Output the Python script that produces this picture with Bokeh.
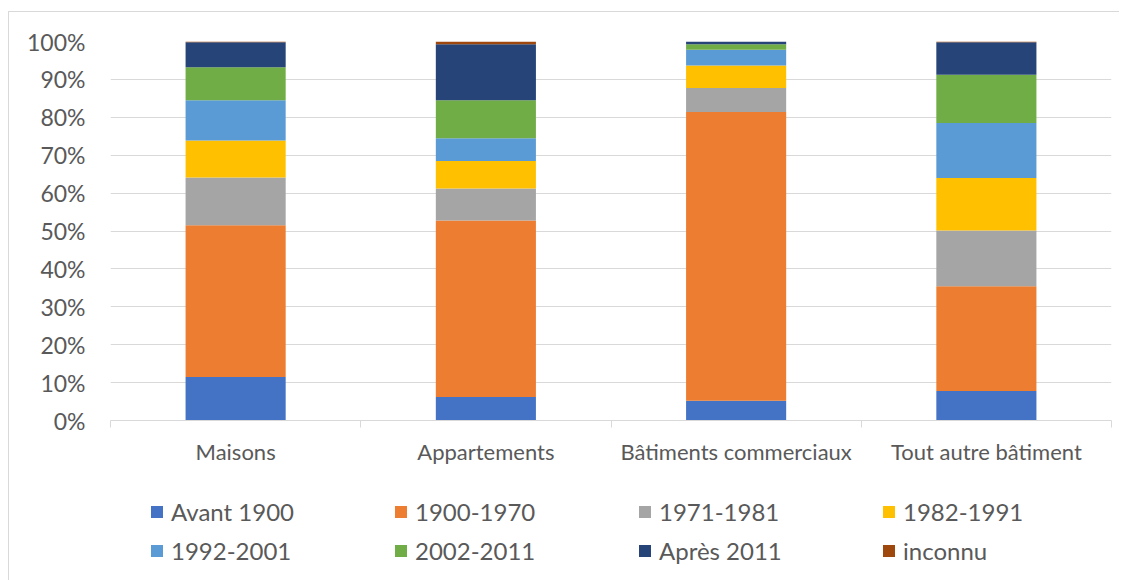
from bokeh.plotting import figure
from bokeh.layouts import column
from bokeh.models import (FixedTicker, NumeralTickFormatter, Legend, LegendItem,
                          ColumnDataSource, Range1d)
from bokeh.embed import file_html
from bokeh.resources import INLINE

categories = ["Maisons", "Appartements", "Bâtiments commerciaux", "Tout autre bâtiment"]
periods = ["Avant 1900", "1900-1970", "1971-1981", "1982-1991",
           "1992-2001", "2002-2011", "Après 2011", "inconnu"]

# shares in percent, per category
avant_1900 = [11.5, 6.2, 5.2, 7.8]
p1900_1970 = [40.0, 46.6, 76.2, 27.6]
p1971_1981 = [12.6, 8.4, 6.3, 14.7]
p1982_1991 = [9.8, 7.3, 6.0, 13.9]
p1992_2001 = [10.6, 6.0, 4.1, 14.5]
p2002_2011 = [8.7, 10.0, 1.5, 12.7]
apres_2011 = [6.6, 14.8, 0.7, 8.6]
inconnu = [0.2, 0.7, 0.0, 0.2]

y_ticks = [0, 10, 20, 30, 40, 50, 60, 70, 80, 90, 100]

colors = ["#4472C4", "#ED7D31", "#A5A5A5", "#FFC000",
          "#5B9BD5", "#70AD47", "#264478", "#9E480E"]

series = [avant_1900, p1900_1970, p1971_1981, p1982_1991,
          p1992_2001, p2002_2011, apres_2011, inconnu]
keys = ["s%d" % i for i in range(len(periods))]

n = len(categories)
data = {"x": [i + 0.5 for i in range(n)]}
for k, s in zip(keys, series):
    data[k] = [v / 100.0 for v in s]
source = ColumnDataSource(data)

TEXT = "#595959"
GRID = "#d9d9d9"
FONT = "Lato"

p = figure(width=1110, height=468, output_backend="svg", toolbar_location=None,
           x_range=Range1d(0, n), y_range=Range1d(0, 1),
           min_border_left=101, min_border_right=8, min_border_top=29,
           min_border_bottom=60)
p.outline_line_color = None

renderers = p.vbar_stack(keys, x="x", width=0.4, source=source,
                         color=colors, line_color=None)

# axes
p.yaxis.ticker = FixedTicker(ticks=[t / 100.0 for t in y_ticks])
p.yaxis.formatter = NumeralTickFormatter(format="0%")
p.yaxis.axis_line_color = None
p.yaxis.major_tick_line_color = None
p.yaxis.minor_tick_line_color = None
p.yaxis.major_tick_in = 0
p.yaxis.major_tick_out = 0
p.yaxis.major_label_standoff = 25
p.yaxis.major_label_text_font = FONT
p.yaxis.major_label_text_font_size = "23px"
p.yaxis.major_label_text_color = TEXT

p.xaxis.ticker = FixedTicker(ticks=[i + 0.5 for i in range(n)],
                             minor_ticks=[i for i in range(n + 1)])
p.xaxis.major_label_overrides = {i + 0.5: c for i, c in enumerate(categories)}
p.xaxis.axis_line_color = GRID
p.xaxis.axis_line_width = 1
p.xaxis.major_tick_line_color = None
p.xaxis.major_tick_in = 0
p.xaxis.major_tick_out = 0
p.xaxis.minor_tick_line_color = GRID
p.xaxis.minor_tick_in = 0
p.xaxis.minor_tick_out = 7
p.xaxis.major_label_standoff = 10
p.xaxis.major_label_text_font = FONT
p.xaxis.major_label_text_font_size = "22px"
p.xaxis.major_label_text_color = TEXT

p.xgrid.grid_line_color = None
p.ygrid.grid_line_color = GRID
p.ygrid.grid_line_width = 1

# legend figure below the chart
p2 = figure(width=1110, height=100, output_backend="svg", toolbar_location=None,
            x_axis_type=None, y_axis_type=None,
            x_range=Range1d(0, 1), y_range=Range1d(0, 1),
            min_border_left=0, min_border_right=0, min_border_top=0,
            min_border_bottom=0)
p2.outline_line_color = None
p2.xgrid.grid_line_color = None
p2.ygrid.grid_line_color = None
legend_renderers = [p2.vbar(x=[-5], top=[0], bottom=[0], width=0.1,
                            color=c, line_color=None)
                    for c in colors]
items = [LegendItem(label=lab, renderers=[r], index=0)
         for lab, r in zip(periods, legend_renderers)]
legend = Legend(items=items, location=(39, 15), orientation="horizontal", ncols=4,
                glyph_width=15, glyph_height=15, label_standoff=7, label_width=212,
                label_height=20, spacing=10, padding=0, margin=0,
                border_line_color=None, background_fill_alpha=0,
                label_text_font=FONT, label_text_font_size="24px",
                label_text_color=TEXT)
p2.add_layout(legend, "center")

layout = column(p, p2, spacing=0)
layout.styles = {"border-top": "1px solid #d9d9d9", "border-left": "1px solid #d9d9d9",
                 "margin-left": "8px", "margin-top": "11px"}

open("out.html", "w").write(file_html(layout, INLINE))
